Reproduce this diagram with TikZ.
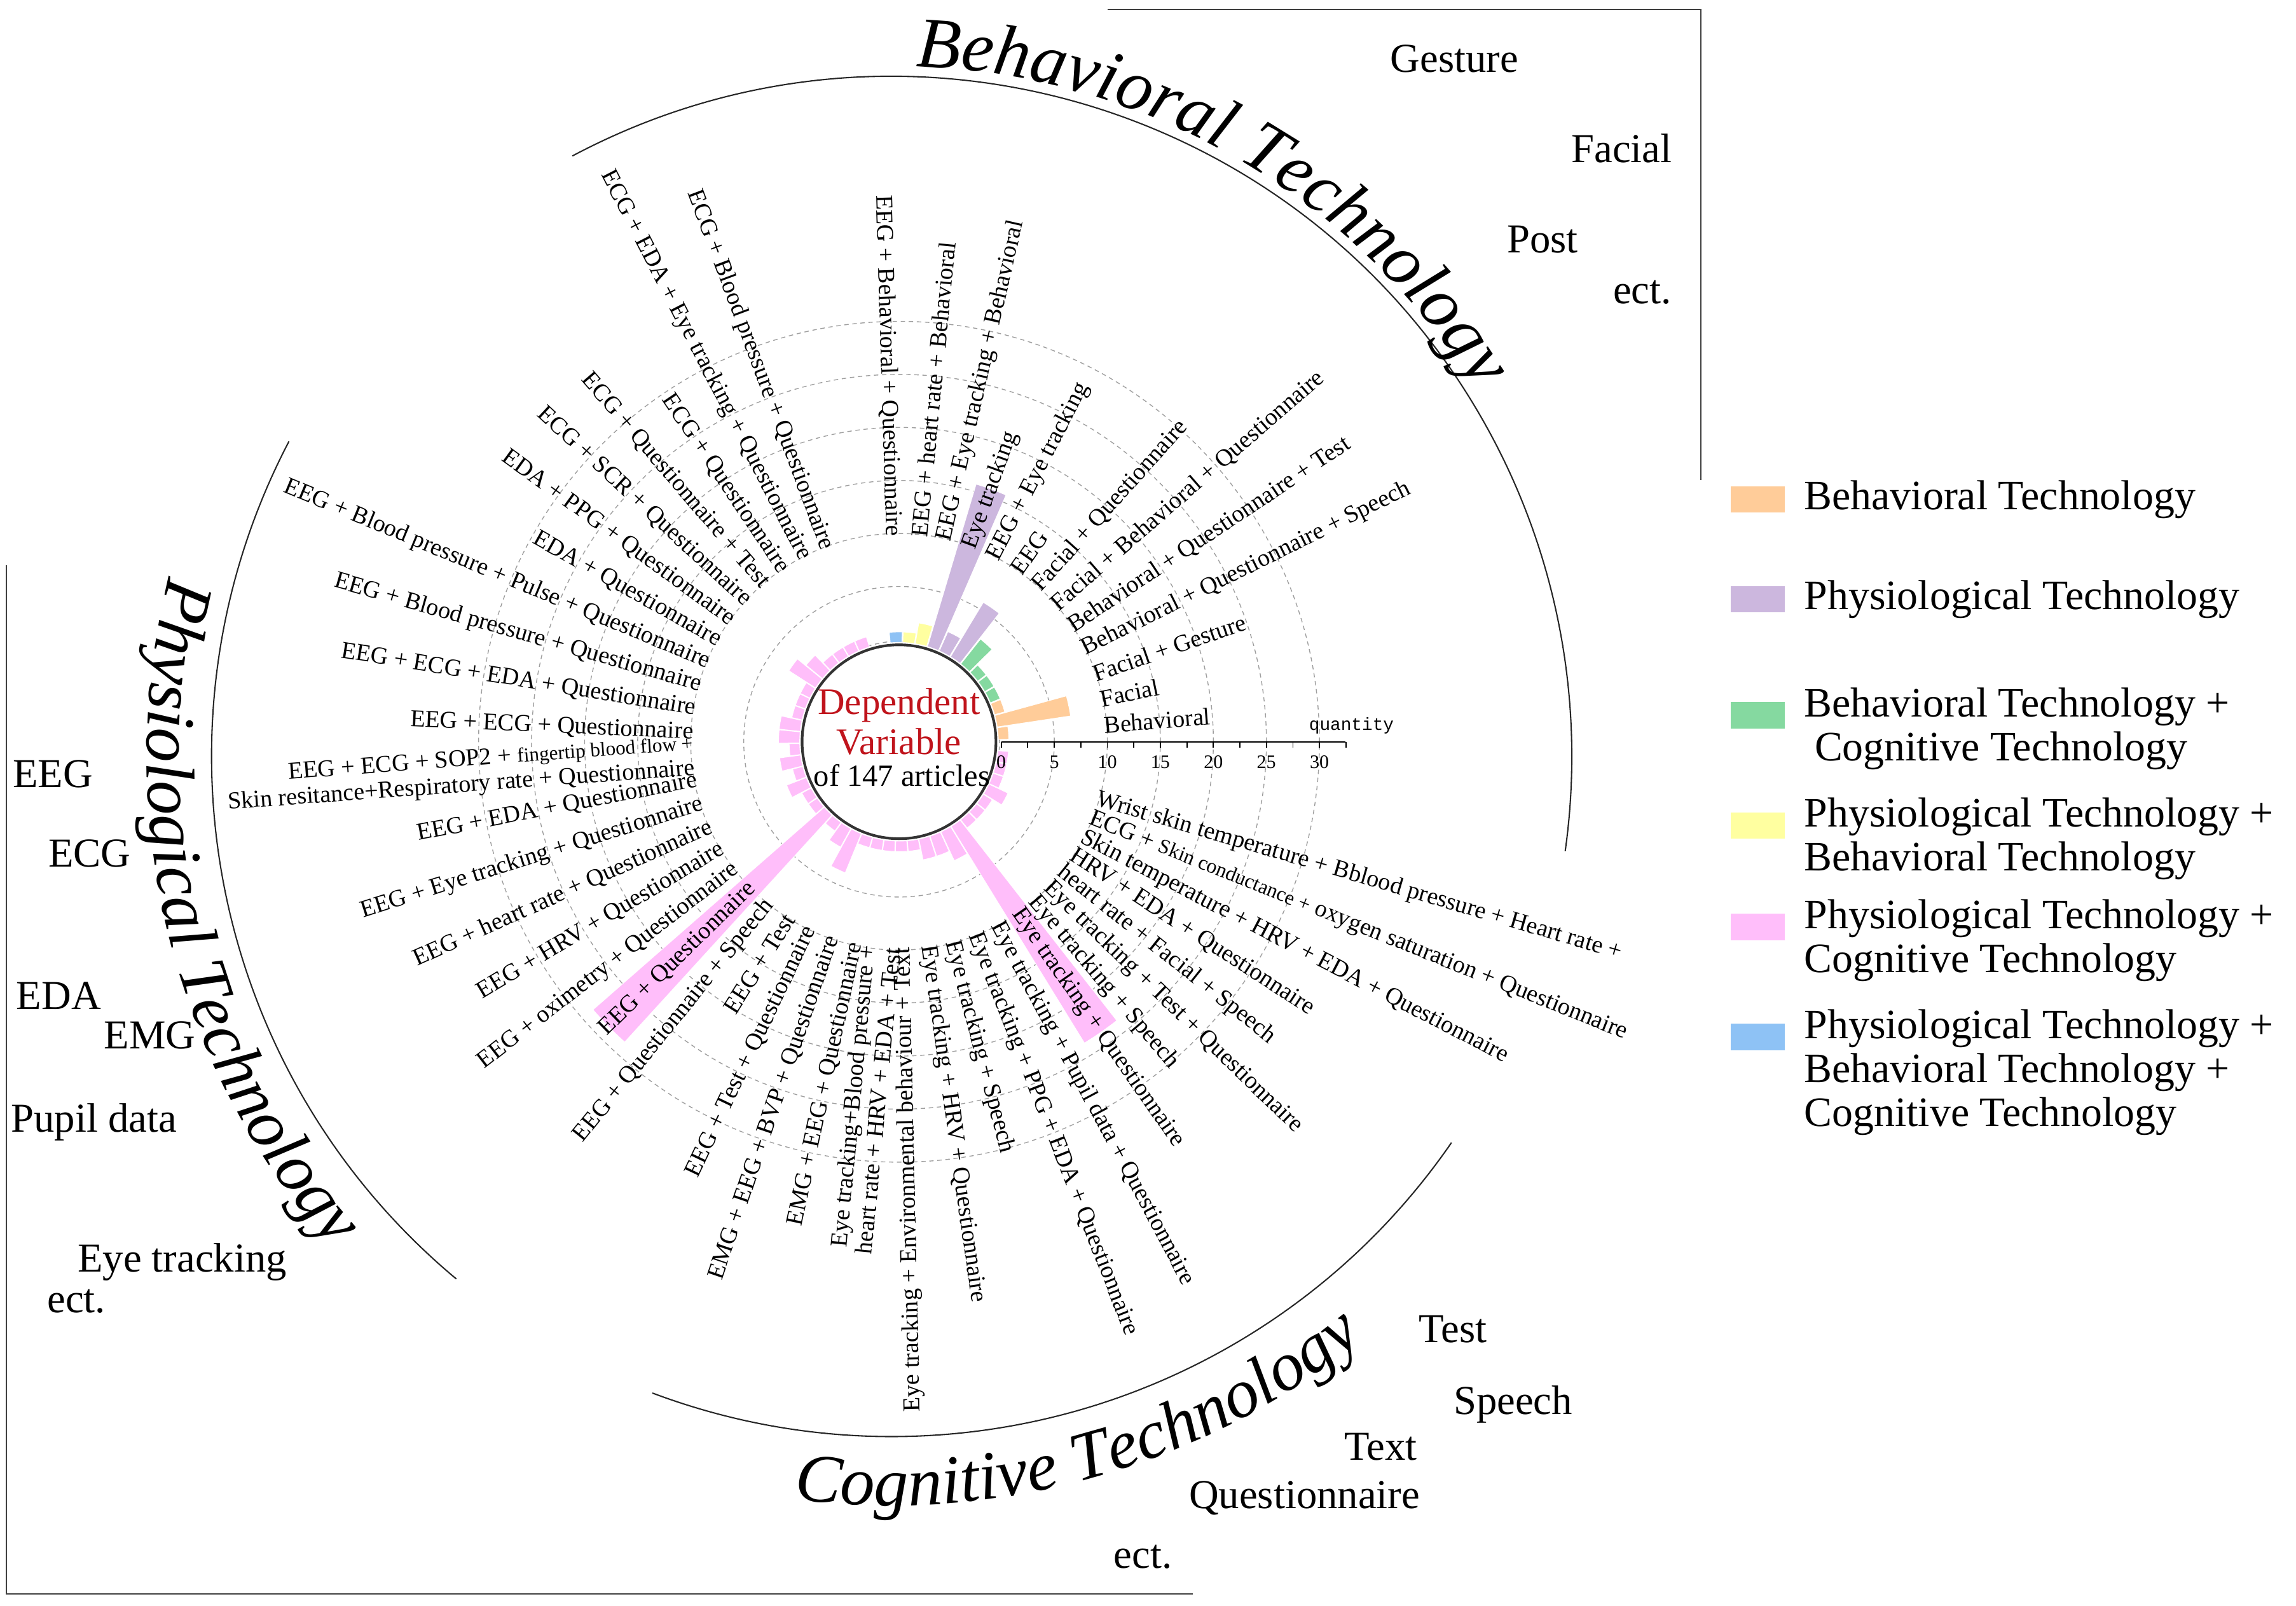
\documentclass[tikz,border=0pt]{standalone}
\usepackage{fontspec}
\setmainfont{Liberation Serif}
\newfontfamily\qmono{Liberation Mono}
\usetikzlibrary{decorations.text}
\definecolor{orng}{RGB}{255,204,153}
\definecolor{prp}{RGB}{204,183,222}
\definecolor{grn}{RGB}{133,217,160}
\definecolor{ylw}{RGB}{255,255,160}
\definecolor{pnk}{RGB}{255,190,250}
\definecolor{blu}{RGB}{142,194,245}
\definecolor{dvred}{RGB}{192,20,28}
\begin{document}
\begin{tikzpicture}[x=1pt,y=1pt,
  lab/.style={font=\fontsize{16.5}{17.5}\selectfont, inner sep=0pt},
  gloss/.style={font=\fontsize{28}{30}\selectfont, inner sep=0pt},
  leg/.style={font=\fontsize{28.5}{30}\selectfont, inner sep=0pt},
  sw/.style={minimum width=37pt, minimum height=18pt, inner sep=0pt},
  grid/.style={gray!75, dash pattern=on 3pt off 2.5pt, line width=0.6pt},
  frame/.style={black!75, line width=0.8pt}]
\useasboundingbox (0,0) rectangle (1563,1093);
\coordinate (C) at (612,588);
\coordinate (A) at (607,578);
% grid circles
\foreach \r in {68.4,105.7,141.8,177.9,214,250.1,286.2}
  \draw[grid] (C) circle[radius=\r];
% bars and labels
\foreach \i/\v/\cl/\tx in {
 0/1/orng/{Behavioral},
 1/7/orng/{Facial},
 2/1/orng/{Facial + Gesture},
 3/1/grn/{Behavioral + Questionnaire + Speech},
 4/1/grn/{Behavioral + Questionnaire + Test},
 5/1/grn/{Facial + Behavioral + Questionnaire},
 6/3/grn/{Facial + Questionnaire},
 7/6/prp/{EEG},
 8/2/prp/{EEG + Eye tracking},
 9/16/prp/{Eye tracking},
 10/2/ylw/{EEG + Eye tracking + Behavioral},
 11/1/ylw/{EEG + heart rate + Behavioral},
 12/1/blu/{EEG + Behavioral + Questionnaire},
 13/1/pnk/{ECG + Blood pressure + Questionnaire},
 14/1/pnk/{ECG + EDA + Eye tracking + Questionnaire},
 15/1/pnk/{ECG + Questionnaire},
 16/1/pnk/{ECG + Questionnaire + Test},
 17/2/pnk/{ECG + SCR + Questionnaire},
 18/3/pnk/{EDA + PPG + Questionnaire},
 19/1/pnk/{EDA + Questionnaire},
 20/1/pnk/{EEG + Blood pressure + Pulse + Questionnaire},
 21/1/pnk/{EEG + Blood pressure + Questionnaire},
 22/2/pnk/{EEG + ECG + EDA + Questionnaire},
 23/2/pnk/{EEG + ECG + Questionnaire},
 24/1/pnk/{EEG + ECG + SOP2 + {\fontsize{13.5}{15}\selectfont fingertip blood flow +}\\Skin resitance+Respiratory rate + Questionnaire},
 25/2/pnk/{EEG + EDA + Questionnaire},
 26/1/pnk/{EEG + Eye tracking + Questionnaire},
 27/2/pnk/{EEG + heart rate + Questionnaire},
 28/1/pnk/{EEG + HRV + Questionnaire},
 29/1/pnk/{EEG + oximetry + Questionnaire},
 30/29/pnk/{EEG + Questionnaire},
 31/1/pnk/{EEG + Questionnaire + Speech},
 32/2/pnk/{EEG + Test},
 33/4/pnk/{EEG + Test + Questionnaire},
 34/1/pnk/{EMG + EEG + BVP + Questionnaire},
 35/1/pnk/{EMG + EEG + Questionnaire},
 36/1/pnk/{Eye tracking+Blood pressure +\\heart rate + HRV + EDA + Test},
 37/1/pnk/{Eye tracking + Environmental behaviour + Text},
 38/1/pnk/{Eye tracking + HRV + Questionnaire},
 39/2/pnk/{Eye tracking + Speech},
 40/2/pnk/{Eye tracking + PPG + EDA + Questionnaire},
 41/3/pnk/{Eye tracking + Pupil data + Questionnaire},
 42/24/pnk/{Eye tracking + Questionnaire},
 43/1/pnk/{Eye tracking + Speech},
 44/1/pnk/{Eye tracking + Test + Questionnaire},
 45/1/pnk/{heart rate + Facial + Speech},
 46/2/pnk/{HRV + EDA + Questionnaire},
 47/1/pnk/{Skin temperature + HRV + EDA + Questionnaire},
 48/1/pnk/{ECG + {\fontsize{14}{15}\selectfont Skin conductance +} oxygen saturation + Questionnaire},
 49/1/pnk/{Wrist skin temperature + Bblood pressure + Heart rate +}}{
  \pgfmathsetmacro{\ang}{\i<13 ? 4.7+7.25*\i : 110.5+6.7*(\i-13)}
  \pgfmathsetmacro{\hw}{\i<13 ? 3.4 : 3.2}
  \pgfmathsetmacro{\rtop}{67.6+7.22*\v}
  \pgfmathsetmacro{\angl}{\ang-\hw}
  \pgfmathsetmacro{\angr}{\ang+\hw}
  \fill[\cl, draw=white, line width=0.5pt, shift={(C)}] (\angl:67.6)
     arc[start angle=\angl, end angle=\angr, radius=67.6] -- (\angr:\rtop)
     arc[start angle=\angr, end angle=\angl, radius=\rtop] -- cycle;
  \pgfmathsetmacro{\lang}{\i>42 ? \ang-1.15*(\i-42) : \ang}
  \pgfmathtruncatemacro{\rside}{or(\i<12,\i>37) ? 1 : 0}
  \ifnum\rside=1
    \node[lab, anchor=west, align=left, rotate=\lang] (l\i) at ([shift={(\lang:140)}]C) {\tx};
  \else
    \pgfmathsetmacro{\angb}{\lang+180}
    \node[lab, anchor=east, align=right, rotate=\angb] (l\i) at ([shift={(\lang:140)}]C) {\tx};
  \fi
}
% inner circle and centre text
\draw[black!80, line width=1.8pt, fill=none] (C) circle[radius=66];
\node[font=\fontsize{25.5}{26}\selectfont, text=dvred, inner sep=0pt] (t1) at (612,613) {Dependent};
\node[font=\fontsize{25.5}{26}\selectfont, text=dvred, inner sep=0pt] (t2) at (612,588) {Variable};
\node[font=\fontsize{21}{22}\selectfont, inner sep=0pt] (t3) at (614,565) {of 147 articles};
% axis
\coordinate (ax0) at (681.6,588);
\coordinate (ax1) at (916,588);
\draw[black, line width=0.9pt] (ax0) -- (ax1);
\foreach \k in {0,...,13}
  \draw[black, line width=0.8pt] ([xshift=18.05*\k]ax0) -- ++(0,-4);
\foreach \k/\n in {0/0,2/5,4/10,6/15,8/20,10/25,12/30}
  \node[font=\fontsize{13}{14}\selectfont, inner sep=0pt] (n\k) at ([xshift=18.05*\k, yshift=-14]ax0) {\n};
\node[font=\qmono\fontsize{12}{13}\selectfont, inner sep=0pt, anchor=east] (qty) at (949,599) {quantity};
% outer arcs
\draw[black!85, line width=0.9pt] ([shift={(118:463)}]A) arc[start angle=118, end angle=-8, radius=463];
\draw[black!85, line width=0.9pt] ([shift={(-34.6:463)}]A) arc[start angle=-34.6, end angle=-110.6, radius=463];
\draw[black!85, line width=0.9pt] ([shift={(152.4:463)}]A) arc[start angle=152.4, end angle=230.2, radius=463];
% titles along arcs
\path[decorate, decoration={text along path, text={|\fontsize{49}{50}\selectfont\itshape|Behavioral Technology}}]
  ([shift={(88:470)}]A) arc[start angle=88, end angle=28, radius=470];
\path[decorate, decoration={text along path, text={|\fontsize{47}{50}\selectfont\itshape|Physiological Technology}}]
  ([shift={(166:507)}]A) arc[start angle=166, end angle=232, radius=507];
\path[decorate, decoration={text along path, text={|\fontsize{47}{50}\selectfont\itshape|Cognitive Technology}}]
  ([shift={(262.5:510)}]A) arc[start angle=262.5, end angle=312, radius=510];
% frames
\coordinate (f1) at (754,1086.5); \coordinate (f2) at (1158,1086.5); \coordinate (f3) at (1158,766);
\draw[frame] (f1) -- (f2) -- (f3);
\coordinate (g1) at (4.4,708); \coordinate (g2) at (4.4,8); \coordinate (g3) at (812,8);
\draw[frame] (g1) -- (g2) -- (g3);
% gloss words
\node[gloss] (w1) at (990,1053) {Gesture};
\node[gloss] (w2) at (1104,992) {Facial};
\node[gloss] (w3) at (1050,930) {Post};
\node[gloss] (w4) at (1118,894) {ect.};
\node[gloss] (w5) at (36,566) {EEG};
\node[gloss] (w6) at (61,512) {ECG};
\node[gloss] (w7) at (40,415) {EDA};
\node[gloss] (w8) at (102,388) {EMG};
\node[gloss] (w9) at (64,329) {Pupil data};
\node[gloss] (w10) at (124,234) {Eye tracking};
\node[gloss] (w11) at (52,207) {ect.};
\node[gloss] (w12) at (989,188) {Test};
\node[gloss] (w13) at (1030,137) {Speech};
\node[gloss] (w14) at (940,108) {Text};
\node[gloss] (w15) at (888,73) {Questionnaire};
\node[gloss] (w16) at (778,33) {ect.};
% legend
\node[sw, fill=orng] (s1) at (1196.5,753) {};
\node[sw, fill=prp] (s2) at (1196.5,685) {};
\node[sw, fill=grn] (s3) at (1196.5,606) {};
\node[sw, fill=ylw] (s4) at (1196.5,531) {};
\node[sw, fill=pnk] (s5) at (1196.5,462) {};
\node[sw, fill=blu] (s6) at (1196.5,387) {};
\node[leg, anchor=west] (e1) at (1228,753) {Behavioral Technology};
\node[leg, anchor=west] (e2) at (1228,685) {Physiological Technology};
\node[leg, anchor=north west, align=left] (e3) at (1228,625) {Behavioral Technology +\\\hspace{0.25em}Cognitive Technology};
\node[leg, anchor=north west, align=left] (e4) at (1228,550) {Physiological Technology +\\Behavioral Technology};
\node[leg, anchor=north west, align=left] (e5) at (1228,481) {Physiological Technology +\\Cognitive Technology};
\node[leg, anchor=north west, align=left] (e6) at (1228,406) {Physiological Technology +\\Behavioral Technology +\\Cognitive Technology};
\end{tikzpicture}
\end{document}
